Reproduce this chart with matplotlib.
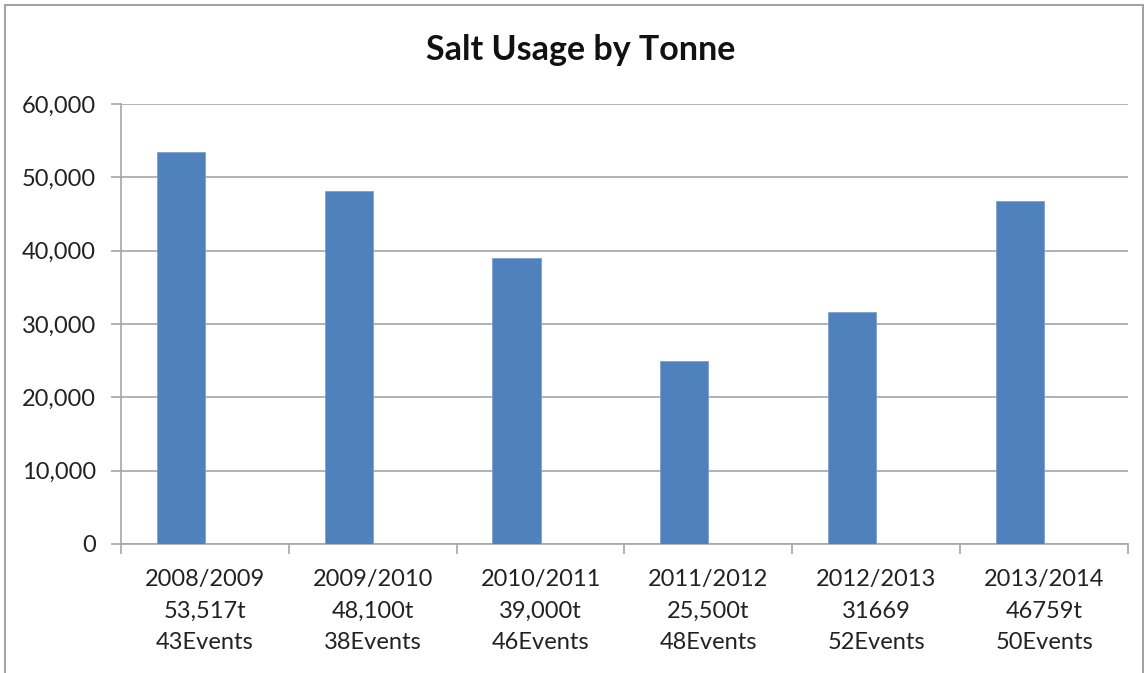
import numpy as np
import matplotlib
matplotlib.use("Agg")
from matplotlib import pyplot as plt
from matplotlib.patches import Rectangle

seasons = ["2008/2009", "2009/2010", "2010/2011", "2011/2012", "2012/2013", "2013/2014"]
usage_labels = ["53,517t", "48,100t", "39,000t", "25,500t", "31669", "46759t"]
events = ["43Events", "38Events", "46Events", "48Events", "52Events", "50Events"]
salt_tonnes = [53517, 48100, 39000, 25000, 31669, 46759]

plt.rcParams['font.family'] = ['Lato', 'DejaVu Sans']

W, H = 1147, 673
fig = plt.figure(figsize=(W / 100, H / 100), dpi=100)
ax = fig.add_axes([121 / W, 1 - 544 / H, (1128 - 121) / W, (544 - 104) / H])

grey = '#a6a6a6'
x = np.arange(len(seasons))
bw = 0.287
ax.bar(x, salt_tonnes, width=bw, align='edge', color='#4f81bd',
       edgecolor='#7ba0cf', linewidth=0.6, zorder=3)
# bars sit left of category centre (clustered layout), so shift
for p in ax.patches:
    p.set_x(p.get_x() + 0.5 - bw)

ax.set_xlim(0, len(seasons))
ax.set_ylim(0, 60000)
ax.set_yticks(np.arange(0, 60001, 10000))
ax.set_yticklabels([f"{v:,}" for v in range(0, 60001, 10000)], fontsize=17, color='#222222')
ax.yaxis.grid(True, color=grey, linewidth=1.2, zorder=0)

ax.set_xticks(x + 0.5)
ax.set_xticklabels([f"{s}\n{u}\n{e}" for s, u, e in zip(seasons, usage_labels, events)],
                   fontsize=17, color='#222222', linespacing=1.63)
ax.set_xticks(np.arange(len(seasons) + 1), minor=True)
ax.tick_params(axis='x', which='major', length=0, pad=18)
ax.tick_params(axis='x', which='minor', length=7, width=1.2, color=grey, direction='out')
ax.tick_params(axis='y', length=7, width=1.2, color=grey, pad=11)

for s in ['top', 'right']:
    ax.spines[s].set_visible(False)
for s in ['left', 'bottom']:
    ax.spines[s].set_color(grey)
    ax.spines[s].set_linewidth(1.2)

fig.text(581 / W, 1 - 50 / H, "Salt Usage by Tonne", ha='center', va='center',
         fontsize=24.5, fontweight='bold', color='#111111')

fig.patches.append(Rectangle((5 / W, -0.05), (1143 - 5) / W, 1 - 5 / H + 0.05,
                             transform=fig.transFigure, fill=False,
                             edgecolor='#999999', linewidth=1.3))

fig.savefig("out.png", dpi=100)
